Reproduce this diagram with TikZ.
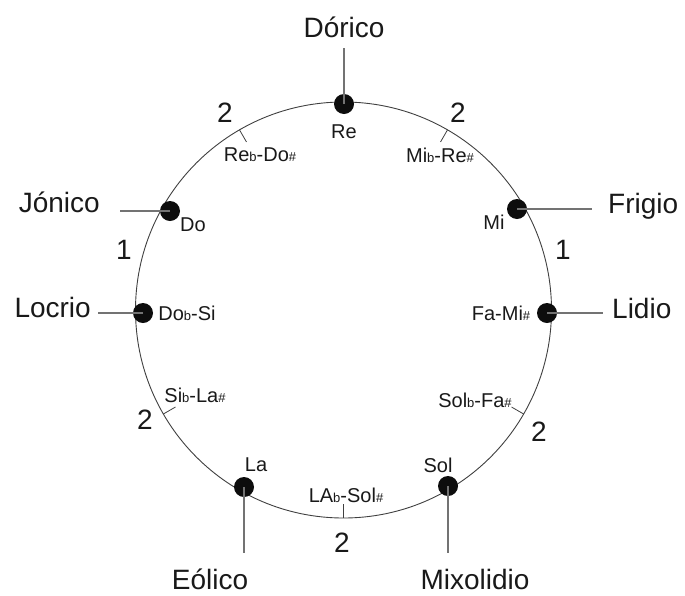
\documentclass[tikz,border=0pt]{standalone}
\usepackage{fontspec}
\setmainfont{Liberation Sans}
\usetikzlibrary{calc}
\newcommand{\fl}{{\fontsize{13}{13}\selectfont b}}
\newcommand{\sh}{{\fontsize{13}{13}\selectfont\#}}
\begin{document}
\begin{tikzpicture}[x=1pt,y=-1pt,
  mode/.style={font=\fontsize{28}{30}\selectfont, text=black!90, inner sep=0pt},
  note/.style={font=\fontsize{20}{22}\selectfont, text=black!90, inner sep=0pt},
  num/.style={font=\fontsize{28}{30}\selectfont, text=black!90, inner sep=0pt},
  dot/.style={circle, fill=black!95, minimum size=20pt, inner sep=0pt},
  lead/.style={draw=black!55, line width=1.1pt},
  tick/.style={draw=black!75, line width=0.8pt}]
\useasboundingbox (0,0) rectangle (685,595);
\coordinate (C) at (343.5,310);
\draw[black!75, line width=0.9pt] (C) circle[radius=208pt];
% ticks
\foreach \a/\n in {120/tA,60/tB,-30/tC,-90/tD,-150/tE}{
  \coordinate (\n o) at ($(C)+(\a:208pt)$);
  \coordinate (\n i) at ($(C)+(\a:194pt)$);
  \draw[tick] (\n o) -- (\n i);
}
% dots
\node[dot] (re) at (344,104) {};
\node[dot] (mi) at (517,209) {};
\node[dot] (fa) at (547,313) {};
\node[dot] (sol) at (448,486) {};
\node[dot] (la) at (244,487) {};
\node[dot] (si) at (143,313) {};
\node[dot] (do) at (170,211) {};
% leader endpoints
\coordinate (eDor) at (344,48);
\coordinate (eJon) at (120,211);
\coordinate (eLoc) at (98,313);
\coordinate (eFri) at (592,209);
\coordinate (eLid) at (603,313);
\coordinate (eEol) at (244,553);
\coordinate (eMix) at (448,553);
\draw[lead] (re.center) -- (re.center |- eDor);
\draw[lead] (do.center) -- (do.center -| eJon);
\draw[lead] (si.center) -- (si.center -| eLoc);
\draw[lead] (mi.center) -- (mi.center -| eFri);
\draw[lead] (fa.center) -- (fa.center -| eLid);
\draw[lead] (la.center) -- (la.center |- eEol);
\draw[lead] (sol.center) -- (sol.center |- eMix);
% mode labels
\node[mode] (lDor) at (344,27) {Dórico};
\node[mode, anchor=base east] (lJon) at (100,212) {Jónico};
\node[mode, anchor=base east] (lLoc) at (91,317) {Locrio};
\node[mode, anchor=base west] (lFri) at (608,213) {Frigio};
\node[mode, anchor=base west] (lLid) at (612,318) {Lidio};
\node[mode, anchor=base] (lEol) at (210,589) {Eólico};
\node[mode, anchor=base] (lMix) at (475,589) {Mixolidio};
% note labels
\node[note] (nRe) at (344,132) {Re};
\node[note] (nReb) at (260,155) {Re\fl-Do\sh};
\node[note] (nMib) at (440,155) {Mi\fl-Re\sh};
\node[note] (nMi) at (494,222) {Mi};
\node[note] (nDo) at (193,225) {Do};
\node[note] (nDob) at (187,313) {Do\fl-Si};
\node[note] (nFa) at (501,313) {Fa-Mi\sh};
\node[note] (nSib) at (195,395) {Si\fl-La\sh};
\node[note] (nSolb) at (475,400) {Sol\fl-Fa\sh};
\node[note] (nLa) at (256,465) {La};
\node[note] (nSol) at (438,465) {Sol};
\node[note] (nLab) at (346,495) {LA\fl-Sol\sh};
% interval numbers
\node[num] (i1) at (225,113) {2};
\node[num] (i2) at (458,113) {2};
\node[num] (i3) at (124,250) {1};
\node[num] (i4) at (563,250) {1};
\node[num] (i5) at (145,420) {2};
\node[num] (i6) at (539,432) {2};
\node[num] (i7) at (342,543) {2};
\end{tikzpicture}
\end{document}
